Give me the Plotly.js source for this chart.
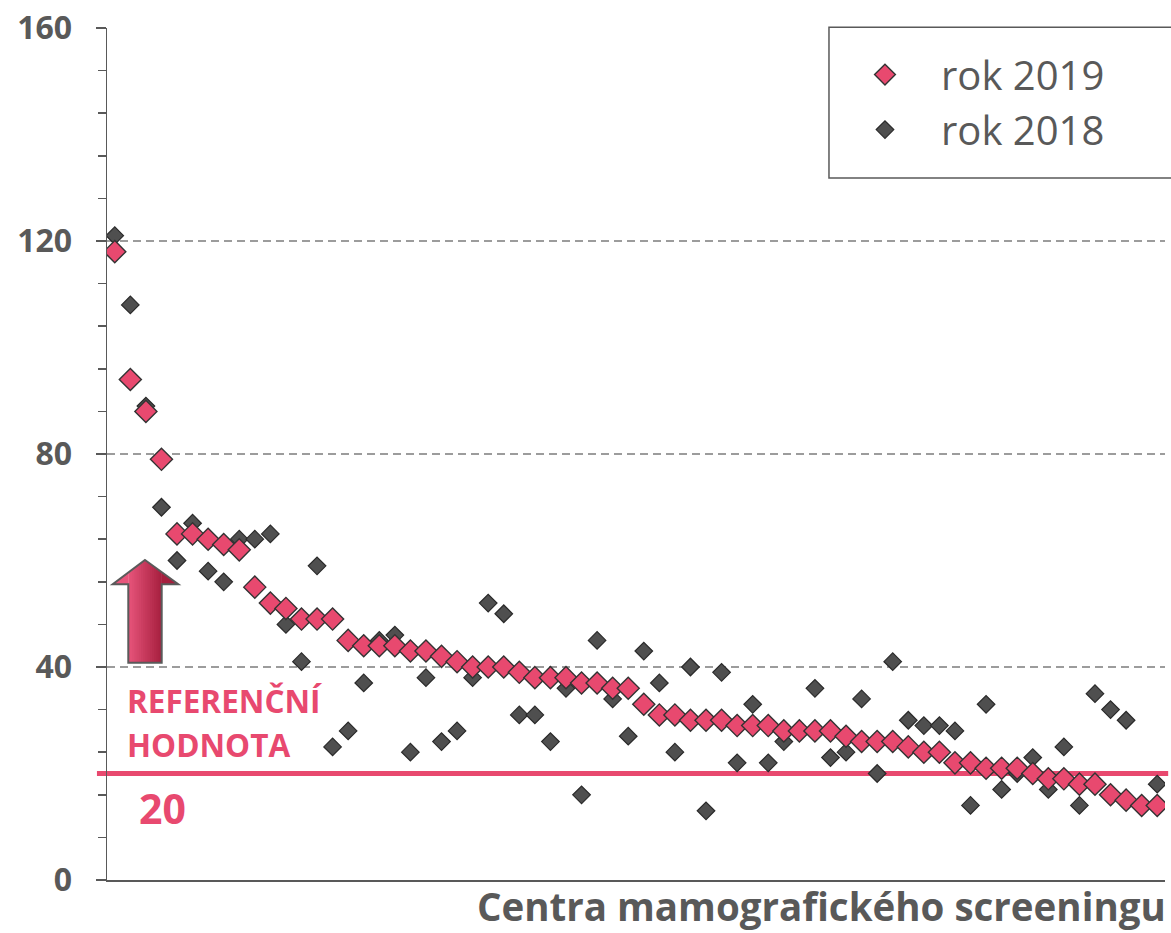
<!DOCTYPE html>
<html>
<head>
<meta charset="utf-8">
<script src="https://cdn.plot.ly/plotly-3.0.1.min.js"></script>
<style>html,body{margin:0;padding:0;background:#fff;}#chart{width:1171px;height:933px;}</style>
</head>
<body>
<div id="chart"></div>
<script>
// Centers (ordered by 2019 value)
const centers = Array.from({length: 68}, (_, i) => i + 1);

const values2019 = [118, 94, 88, 79, 65, 65, 64, 63, 62, 55,
  52, 51, 49, 49, 49, 45, 44, 44, 44, 43,
  43, 42, 41, 40, 40, 40, 39, 38, 38, 38,
  37, 37, 36, 36, 33, 31, 31, 30, 30, 30,
  29, 29, 29, 28, 28, 28, 28, 27, 26, 26,
  26, 25, 24, 24, 22, 22, 21, 21, 21, 20,
  19, 19, 18, 18, 16, 15, 14, 14];

const values2018 = [121, 108, 89, 70, 60, 67, 58, 56, 64, 64,
  65, 48, 41, 59, 25, 28, 37, 45, 46, 24,
  38, 26, 28, 38, 52, 50, 31, 31, 26, 36,
  16, 45, 34, 27, 43, 37, 24, 40, 13, 39,
  22, 33, 22, 26, 28, 36, 23, 24, 34, 20,
  41, 30, 29, 29, 28, 14, 33, 17, 20, 23,
  17, 25, 14, 35, 32, 30, 14, 18];

const seriesNames = ['rok 2019', 'rok 2018'];
const referenceValue = 20;
const yTicks = [0, 40, 80, 120, 160];

const GRAY = '#595959';
const PINK = '#E8496F';
const FONT = '"Open Sans", Lato, sans-serif';

const trace2018 = {
  x: centers, y: values2018, type: 'scatter', mode: 'markers', name: seriesNames[1],
  marker: {symbol: 'diamond', size: 13.5, color: '#4F4F4F', line: {color: '#2A2A2A', width: 1.2}},
  hoverinfo: 'y', legendgroup: 'b'
};
const trace2019 = {
  x: centers, y: values2019, type: 'scatter', mode: 'markers', name: seriesNames[0],
  marker: {symbol: 'diamond', size: 17, color: PINK, line: {color: '#333333', width: 1.4}},
  hoverinfo: 'y', legendgroup: 'a'
};

// ---- Decorative arrow (axis units) with a horizontal gradient ----
const AR = {left: 0.866, right: 5.083, tipX: 2.942, tipY: 60.09, wingY: 55.53,
            shaftL: 1.869, shaftR: 4.016, baseY: 40.81};
function arrowTop(x) {
  return x <= AR.tipX
    ? AR.wingY + (x - AR.left) / (AR.tipX - AR.left) * (AR.tipY - AR.wingY)
    : AR.tipY - (x - AR.tipX) / (AR.right - AR.tipX) * (AR.tipY - AR.wingY);
}
function arrowBottom(xm) {
  return (xm > AR.shaftL && xm < AR.shaftR) ? AR.baseY : AR.wingY;
}
function mix(c1, c2, t) {
  const a = [1, 3, 5].map(i => parseInt(c1.substr(i, 2), 16));
  const b = [1, 3, 5].map(i => parseInt(c2.substr(i, 2), 16));
  return 'rgb(' + a.map((v, i) => Math.round(v + (b[i] - v) * t)).join(',') + ')';
}
const hardBreaks = [AR.shaftL, AR.shaftR, AR.right];
const arrowShapes = [];
const NB = 30;
let edges = [];
for (let i = 0; i <= NB; i++) edges.push(AR.left + (AR.right - AR.left) * i / NB);
edges = Array.from(new Set(edges.concat([AR.left, AR.shaftL, AR.tipX, AR.shaftR, AR.right]))).sort((p, q) => p - q);
for (let i = 0; i < edges.length - 1; i++) {
  const a = edges[i], b = edges[i + 1];
  if (b - a < 1e-6) continue;
  const ybot = arrowBottom((a + b) / 2);
  const t = ((a + b) / 2 - AR.shaftL) / (AR.shaftR - AR.shaftL);
  const col = mix('#E8557B', '#A61F3E', Math.max(0, Math.min(1, t)));
  const limit = hardBreaks.find(v => v >= b - 1e-9);
  const bb = Math.min(b + 0.12, limit);
  arrowShapes.push({type: 'path', xref: 'x', yref: 'y', layer: 'above',
    path: 'M ' + a + ' ' + ybot + ' L ' + bb + ' ' + ybot + ' L ' + bb + ' ' + arrowTop(bb) +
          (a < AR.tipX && bb > AR.tipX ? ' L ' + AR.tipX + ' ' + AR.tipY : '') +
          ' L ' + a + ' ' + arrowTop(a) + ' Z',
    fillcolor: col, line: {width: 0}});
}
const arrowOutline = 'M ' + AR.tipX + ' ' + AR.tipY + ' L ' + AR.right + ' ' + AR.wingY + ' L ' + AR.shaftR + ' ' + AR.wingY +
  ' L ' + AR.shaftR + ' ' + AR.baseY + ' L ' + AR.shaftL + ' ' + AR.baseY + ' L ' + AR.shaftL + ' ' + AR.wingY +
  ' L ' + AR.left + ' ' + AR.wingY + ' Z';

const layout = {
  width: 1171, height: 933,
  margin: {l: 107, r: 6, t: 28, b: 53},
  paper_bgcolor: '#ffffff', plot_bgcolor: '#ffffff',
  font: {family: FONT, color: GRAY},
  showlegend: true,
  legend: {
    x: 0.6824, y: 0.9835, xanchor: 'left', yanchor: 'top',
    traceorder: 'reversed', tracegroupgap: 19,
    borderwidth: 0, bgcolor: 'rgba(0,0,0,0)',
    font: {size: 40, color: GRAY, family: FONT},
    itemwidth: 102
  },
  xaxis: {
    range: [0.5, 68.5], showticklabels: false, ticks: '', showgrid: false,
    zeroline: false, showline: true, linecolor: GRAY, linewidth: 1.5
  },
  yaxis: {
    range: [0, 160], tickvals: yTicks, ticktext: yTicks.map(v => '<b>' + v + '</b>'),
    ticks: 'outside', ticklen: 10, tickwidth: 1.5, tickcolor: GRAY,
    ticklabelstandoff: 17,
    tickfont: {size: 32, color: GRAY, family: FONT},
    showgrid: true, gridcolor: '#9C9C9C', gridwidth: 2.5, griddash: '8px,5px',
    zeroline: false, showline: true, linecolor: GRAY, linewidth: 1.5,
    minor: {dtick: 8, tick0: 0, ticks: 'outside', ticklen: 8, tickwidth: 1.5, tickcolor: GRAY, showgrid: false}
  },
  shapes: [
    {type: 'line', xref: 'paper', yref: 'y', x0: -0.0095, x1: 1.003, y0: referenceValue, y1: referenceValue,
     line: {color: PINK, width: 5}, layer: 'below'}
  ].concat(arrowShapes).concat([
    {type: 'path', xref: 'x', yref: 'y', path: arrowOutline, fillcolor: 'rgba(0,0,0,0)',
     line: {color: '#5A5A5A', width: 2}, layer: 'above'},
    {type: 'rect', xref: 'paper', yref: 'paper', x0: 0.6824, x1: 1.02, y0: 0.824, y1: 1.001,
     fillcolor: '#ffffff', line: {color: GRAY, width: 1.5}, layer: 'above'}
  ]),
  annotations: [
    {text: '<b>Centra mamografického screeningu</b>', xref: 'paper', yref: 'paper',
     x: 1.003, y: -0.0305, xanchor: 'right', yanchor: 'middle', showarrow: false,
     font: {size: 38.5, color: GRAY}},
    {text: '<b>REFERENČNÍ</b>', xref: 'paper', yref: 'y', x: 0.017, y: 33.8,
     xanchor: 'left', yanchor: 'middle', showarrow: false, font: {size: 31.5, color: PINK}},
    {text: '<b>HODNOTA</b>', xref: 'paper', yref: 'y', x: 0.017, y: 25.4,
     xanchor: 'left', yanchor: 'middle', showarrow: false, font: {size: 31.5, color: PINK}},
    {text: '<b>' + referenceValue + '</b>', xref: 'paper', yref: 'y', x: 0.0529, y: 13.5,
     xanchor: 'center', yanchor: 'middle', showarrow: false, font: {size: 41, color: PINK}}
  ]
};

Plotly.newPlot('chart', [trace2018, trace2019], layout, {displayModeBar: false, staticPlot: true});
</script>
</body>
</html>
